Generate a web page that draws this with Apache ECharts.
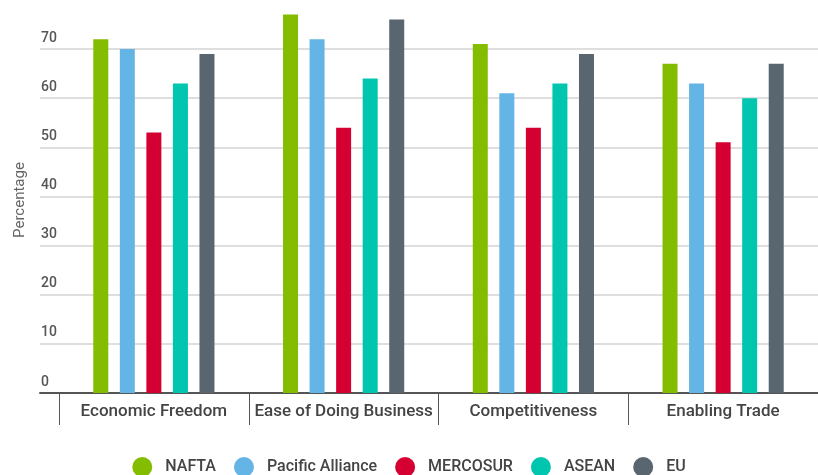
<!DOCTYPE html>
<html>
<head>
<meta charset="utf-8">
<script src="https://cdn.jsdelivr.net/npm/echarts@6/dist/echarts.min.js"></script>
<style>
  html, body { margin: 0; padding: 0; background: #fff; }
  #main { width: 818px; height: 475px; }
</style>
</head>
<body>
<div id="main"></div>
<script>
var categories = ['Economic Freedom', 'Ease of Doing Business', 'Competitiveness', 'Enabling Trade'];
var blocs = ['NAFTA', 'Pacific Alliance', 'MERCOSUR', 'ASEAN', 'EU'];
var nafta = [72, 77, 71, 67];
var pacific = [70, 72, 61, 63];
var mercosur = [53, 54, 54, 51];
var asean = [63, 64, 63, 60];
var eu = [69, 76, 69, 67];
var colors = ['#84bd00', '#64b5e6', '#d50032', '#00c6b0', '#59656f'];
var yTicks = [0, 70, 10]; // min, max, step

var myChart = echarts.init(document.getElementById('main'));
var font = 'Roboto, sans-serif';

var values = [nafta, pacific, mercosur, asean, eu];
var series = [];
for (var i = 0; i < blocs.length; i++) {
    series.push({
        name: blocs[i],
        type: 'bar',
        xAxisIndex: 1,
        yAxisIndex: 1,
        barWidth: 15,
        barGap: '77%',
        clip: false,
        itemStyle: { color: colors[i] },
        data: values[i]
    });
}

option = {
    animation: false,
    color: colors,
    graphic: [
        {
            type: 'text',
            left: 152,
            top: -18,
            style: {
                text: 'Comparison of bloc performance (percentile rank)',
                font: '19px "Liberation Serif", serif',
                fill: '#111'
            }
        },
        {
            type: 'text',
            x: 20,
            y: 200,
            rotation: Math.PI / 2,
            style: {
                text: 'Percentage',
                font: '15px ' + font,
                fill: '#666',
                align: 'center',
                verticalAlign: 'middle'
            }
        }
    ],
    legend: {
        data: blocs,
        top: 452,
        left: 'center',
        icon: 'circle',
        itemWidth: 20,
        itemHeight: 20,
        itemGap: 18,
        textStyle: { fontFamily: font, fontSize: 16, fontWeight: 500, color: '#444', padding: [0, 0, 0, 8] }
    },
    grid: [
        { left: 40, right: -9, top: 49, bottom: 82 },
        { left: 59, right: -9, top: 49, bottom: 82 }
    ],
    xAxis: [
        {
            gridIndex: 0,
            type: 'value',
            min: 0,
            max: 1,
            axisLine: { show: true, lineStyle: { color: '#555', width: 2 } },
            axisTick: { show: false },
            axisLabel: { show: false },
            splitLine: { show: false }
        },
        {
            gridIndex: 1,
            type: 'category',
            data: categories,
            axisLine: { show: false },
            axisTick: { show: true, interval: 0, length: 32, lineStyle: { color: '#555', width: 1 } },
            axisLabel: { interval: 0, fontFamily: font, fontSize: 17, fontWeight: 500, color: '#444', margin: 10 }
        }
    ],
    yAxis: [
        {
            gridIndex: 0,
            type: 'value',
            min: yTicks[0],
            max: yTicks[1],
            interval: yTicks[2],
            axisLine: { show: false },
            axisTick: { show: false },
            axisLabel: {
                inside: true,
                align: 'left',
                verticalAlign: 'bottom',
                margin: 0,
                padding: [0, 0, 4, 1],
                fontFamily: font,
                fontSize: 14,
                fontWeight: 500,
                color: '#555'
            },
            splitLine: { lineStyle: { color: '#d3d3d3', width: 1.5 } }
        },
        {
            gridIndex: 1,
            type: 'value',
            min: yTicks[0],
            max: yTicks[1],
            interval: yTicks[2],
            show: false,
            splitLine: { show: false }
        }
    ],
    series: series
};

myChart.setOption(option);
</script>
</body>
</html>
